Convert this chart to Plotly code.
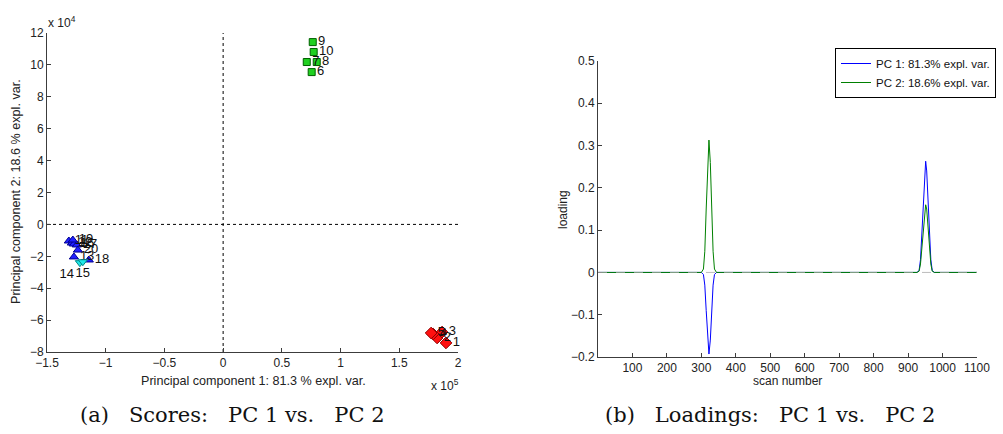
import plotly.graph_objects as go

# ---------- Scores data (left) ----------
red_labels = ["1", "2", "3", "4", "5"]
red_x = [1.898e5, 1.822e5, 1.864e5, 1.788e5, 1.771e5]
red_y = [-7.43e4, -7.12e4, -6.75e4, -6.87e4, -6.81e4]

green_labels = ["6", "7", "8", "9", "10"]
green_x = [0.754e5, 0.712e5, 0.797e5, 0.763e5, 0.771e5]
green_y = [9.55e4, 10.18e4, 10.18e4, 11.43e4, 10.81e4]

blue_labels = ["11", "12", "13", "16", "17", "18", "19", "20"]
blue_x = [-1.314e5, -1.288e5, -1.271e5, -1.271e5, -1.246e5, -1.144e5, -1.280e5, -1.237e5]
blue_y = [-1.04e4, -1.17e4, -2.04e4, -1.23e4, -1.29e4, -2.23e4, -0.98e4, -1.61e4]

cyan_labels = ["14", "15"]
cyan_x = [-1.22e5, -1.195e5]
cyan_y = [-2.40e4, -2.34e4]

# ---------- Loadings data (right) ----------
scan = [1, 300, 306, 310, 314, 318, 322, 326, 330, 334, 338, 344,
        926, 932, 936, 940, 944, 948, 951, 954, 958, 962, 966, 970, 976, 1100]
pc1 = [0, 0, -0.005, -0.03, -0.09, -0.16, -0.193, -0.16, -0.09, -0.03, -0.005, 0,
       0, 0.005, 0.03, 0.09, 0.17, 0.24, 0.263, 0.24, 0.17, 0.09, 0.03, 0.005, 0, 0]
pc2 = [0, 0, 0.008, 0.05, 0.15, 0.26, 0.313, 0.26, 0.15, 0.05, 0.008, 0,
       0, 0.003, 0.02, 0.06, 0.11, 0.15, 0.16, 0.15, 0.11, 0.06, 0.02, 0.003, 0, 0]

xt_left = [-1.5e5, -1e5, -0.5e5, 0, 0.5e5, 1e5, 1.5e5, 2e5]
xt_left_txt = ["\u22121.5", "\u22121", "\u22120.5", "0", "0.5", "1", "1.5", "2"]
yt_left = [-8e4, -6e4, -4e4, -2e4, 0, 2e4, 4e4, 6e4, 8e4, 10e4, 12e4]
yt_left_txt = ["\u22128", "\u22126", "\u22124", "\u22122", "0", "2", "4", "6", "8", "10", "12"]
xt_right = [100, 200, 300, 400, 500, 600, 700, 800, 900, 1000, 1100]
yt_right = [-0.2, -0.1, 0, 0.1, 0.2, 0.3, 0.4, 0.5]
yt_right_txt = ["\u22120.2", "\u22120.1", "0", "0.1", "0.2", "0.3", "0.4", "0.5"]

W, H = 1003, 434
FONT = "Liberation Sans, Arial, sans-serif"
SERIF = "DejaVu Serif, Liberation Serif, serif"
AX = "#3c3c3c"

fig = go.Figure()

def score_trace(xs, ys, labels, symbol, fill, edge, size, tpos="middle right"):
    fig.add_trace(go.Scatter(
        x=xs, y=ys, mode="markers+text", text=labels,
        textposition=tpos, showlegend=False, cliponaxis=False,
        textfont=dict(family=FONT, size=13, color="#111"),
        marker=dict(symbol=symbol, size=size, color=fill, line=dict(color=edge, width=1)),
        xaxis="x", yaxis="y"))

score_trace(red_x, red_y, red_labels, "diamond", "#ff1010", "#900000", 9)
score_trace(green_x, green_y, green_labels, "square", "#20d020", "#006000", 7)
score_trace(blue_x, blue_y, blue_labels, "triangle-up", "#2020ff", "#000090", 8)
score_trace(cyan_x, cyan_y, cyan_labels, "triangle-down", "#20e8e8", "#008888", 8,
            tpos=["bottom left", "bottom center"])

fig.add_trace(go.Scatter(x=scan, y=pc1, mode="lines", name="PC 1: 81.3% expl. var.",
                         line=dict(color="#0000ff", width=1), xaxis="x2", yaxis="y2"))
fig.add_trace(go.Scatter(x=scan, y=pc2, mode="lines", name="PC 2: 18.6% expl. var.",
                         line=dict(color="#008000", width=1), xaxis="x2", yaxis="y2"))

axis_common = dict(showgrid=False, zeroline=False, showline=True, linecolor=AX, linewidth=1,
                   ticks="inside", ticklen=4, tickcolor=AX, mirror=False, automargin=False,
                   tickfont=dict(family=FONT, size=12, color="#222"))

fig.update_layout(
    width=W, height=H, margin=dict(l=0, r=0, t=0, b=0, pad=0, autoexpand=False),
    paper_bgcolor="white", plot_bgcolor="white",
    xaxis=dict(domain=[47 / W, 458 / W], range=[-1.5e5, 2e5], anchor="y",
               tickvals=xt_left, ticktext=xt_left_txt, **axis_common),
    yaxis=dict(domain=[1 - 352 / H, 1 - 33 / H], range=[-8e4, 12e4], anchor="x",
               tickvals=yt_left, ticktext=yt_left_txt, **axis_common),
    xaxis2=dict(domain=[598 / W, 977 / W], range=[0, 1100], anchor="y2",
                tickvals=xt_right, **axis_common),
    yaxis2=dict(domain=[1 - 357 / H, 1 - 61 / H], range=[-0.2, 0.5], anchor="x2",
                tickvals=yt_right, ticktext=yt_right_txt, **axis_common),
    legend=dict(x=835 / W, y=1 - 48 / H, xanchor="left", yanchor="top",
                bgcolor="white", bordercolor="black", borderwidth=1,
                font=dict(family=FONT, size=11.5, color="#111"),
                tracegroupgap=0, itemwidth=30),
    showlegend=True,
)

shapes = [
    dict(type="line", xref="x", yref="y domain", x0=0, x1=0, y0=0, y1=1,
         line=dict(color="black", width=1, dash="dot"), layer="below"),
    dict(type="line", xref="x domain", yref="y", x0=0, x1=1, y0=0, y1=0,
         line=dict(color="black", width=1, dash="dot"), layer="below"),
    dict(type="line", xref="x2 domain", yref="y2", x0=0, x1=1, y0=0, y1=0,
         line=dict(color="rgba(170,170,170,0.8)", width=1, dash="dash"), layer="above"),
]
fig.update_layout(shapes=shapes)

NB = "\u00a0"
ann = [
    dict(text="x 10<sup>4</sup>", x=46 / W, y=1 - 22 / H, xref="paper", yref="paper",
         xanchor="left", yanchor="middle", showarrow=False,
         font=dict(family=FONT, size=12, color="#222")),
    dict(text="x 10<sup>5</sup>", x=429 / W, y=1 - 385 / H, xref="paper", yref="paper",
         xanchor="left", yanchor="middle", showarrow=False,
         font=dict(family=FONT, size=12, color="#222")),
    dict(text="Principal component 1: 81.3 % expl. var.", x=253 / W, y=1 - 381 / H,
         xref="paper", yref="paper", xanchor="center", yanchor="middle", showarrow=False,
         font=dict(family=FONT, size=12.6, color="#222")),
    dict(text="Principal component 2: 18.6 % expl. var.", x=16 / W, y=1 - 192 / H,
         xref="paper", yref="paper", xanchor="center", yanchor="middle", showarrow=False,
         textangle=-90, font=dict(family=FONT, size=12.6, color="#222")),
    dict(text="scan number", x=787 / W, y=1 - 381 / H,
         xref="paper", yref="paper", xanchor="center", yanchor="middle", showarrow=False,
         font=dict(family=FONT, size=12, color="#222")),
    dict(text="loading", x=563 / W, y=1 - 210 / H,
         xref="paper", yref="paper", xanchor="center", yanchor="middle", showarrow=False,
         textangle=-90, font=dict(family=FONT, size=12, color="#222")),
    dict(text="(a)" + NB * 3 + "Scores:" + NB * 3 + "PC 1 vs." + NB * 3 + "PC 2",
         x=232 / W, y=1 - 415 / H,
         xref="paper", yref="paper", xanchor="center", yanchor="middle", showarrow=False,
         font=dict(family=SERIF, size=21, color="#111")),
    dict(text="(b)" + NB * 3 + "Loadings:" + NB * 3 + "PC 1 vs." + NB * 3 + "PC 2",
         x=770 / W, y=1 - 415 / H,
         xref="paper", yref="paper", xanchor="center", yanchor="middle", showarrow=False,
         font=dict(family=SERIF, size=21, color="#111")),
]
fig.update_layout(annotations=ann)

fig.write_html("out.html")
